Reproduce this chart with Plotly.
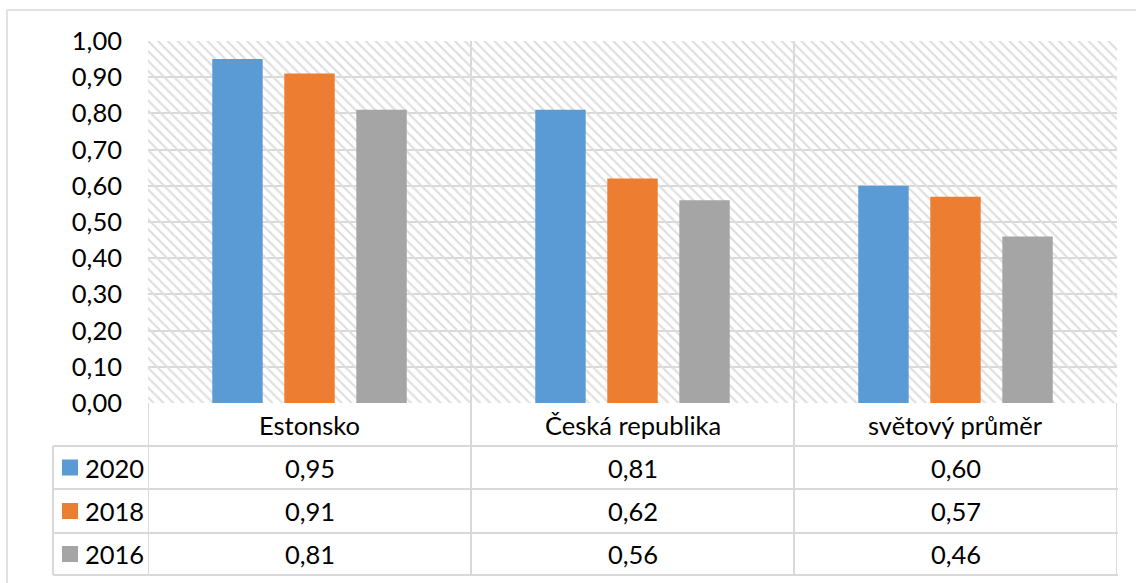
import plotly.graph_objects as go

categories = ["Estonsko", "Česká republika", "světový průměr"]
years = ["2020", "2018", "2016"]
v2020 = [0.95, 0.81, 0.60]
v2018 = [0.91, 0.62, 0.57]
v2016 = [0.81, 0.56, 0.46]
series = [v2020, v2018, v2016]
colors = ["#5b9bd5", "#ed7d31", "#a5a5a5"]
yticks = [i / 10 for i in range(11)]

W, H = 1136, 583
L, R, T, B = 148, 1117, 41, 403
pw, ph = R - L, B - T
FONT = "Lato"
FS = 25.5
GRID = "#d9d9d9"


def py(pix):
    return (B - pix) / ph


def px(pix):
    return (pix - L) / pw


fig = go.Figure()

# hatched plot background (one full-width bar per category)
fig.add_trace(go.Bar(
    x=categories, y=[1] * len(categories), width=[1] * len(categories),
    marker=dict(color="rgba(0,0,0,0)", line=dict(width=0),
                pattern=dict(shape="\\", fgcolor="#dedede", size=7, solidity=0.3,
                             fillmode="replace")),
    xaxis="x", yaxis="y", showlegend=False, hoverinfo="skip"))

for yr, vals, c in zip(years, series, colors):
    fig.add_trace(go.Bar(x=categories, y=vals, name=yr, marker=dict(color=c, line=dict(width=0)),
                         xaxis="x2", yaxis="y2", showlegend=False))

shapes = []
line = dict(color=GRID, width=2)
# table horizontal lines
for yy in [446, 489, 533, 575]:
    shapes.append(dict(type="line", xref="paper", yref="paper", x0=px(53), x1=px(R) + 0.001,
                       y0=py(yy), y1=py(yy), line=line, layer="above"))
# table vertical lines at category boundaries
for xb in [-0.5, 0.5, 1.5, 2.5]:
    shapes.append(dict(type="line", xref="x", yref="paper", x0=xb, x1=xb,
                       y0=py(575), y1=0, line=line, layer="above"))
shapes.append(dict(type="line", xref="paper", yref="paper", x0=px(53), x1=px(53),
                   y0=py(575), y1=py(446), line=line, layer="above"))
# outer chart border (left & top)
shapes.append(dict(type="line", xref="paper", yref="paper", x0=px(7), x1=px(7),
                   y0=py(600), y1=py(10), line=dict(color=GRID, width=1.5)))
shapes.append(dict(type="line", xref="paper", yref="paper", x0=px(7), x1=px(1150),
                   y0=py(10), y1=py(10), line=dict(color=GRID, width=1.5)))

annotations = []
font = dict(family=FONT, size=FS, color="#000000")
for cat in categories:
    annotations.append(dict(x=cat, xref="x", y=py(424.5), yref="paper", text=cat,
                            showarrow=False, font=font, xanchor="center", yanchor="middle"))

row_centers = [467.5, 511, 554]
for yr, vals, c, rc in zip(years, series, colors, row_centers):
    shapes.append(dict(type="rect", xref="paper", yref="paper", x0=px(62), x1=px(78),
                       y0=py(rc + 8), y1=py(rc - 8), fillcolor=c, line=dict(width=0), layer="above"))
    annotations.append(dict(x=px(83), xref="paper", y=py(rc), yref="paper", text=yr,
                            showarrow=False, font=font, xanchor="left", yanchor="middle"))
    for cat, v in zip(categories, vals):
        annotations.append(dict(x=cat, xref="x", y=py(rc), yref="paper",
                                text=f"{v:.2f}".replace(".", ","),
                                showarrow=False, font=font, xanchor="center", yanchor="middle"))

fig.update_layout(
    width=W, height=H,
    margin=dict(l=L, r=W - R, t=T, b=H - B, pad=0),
    paper_bgcolor="white", plot_bgcolor="white",
    separators=", ",
    barmode="group", bargap=0.331, bargroupgap=0.3,
    font=font,
    xaxis=dict(type="category", categoryorder="array", categoryarray=categories,
               range=[-0.5, 2.5], tickson="boundaries", showgrid=True, gridcolor=GRID,
               gridwidth=2, showticklabels=False, ticks="", showline=False, zeroline=False),
    yaxis=dict(range=[0, 1], tickvals=yticks, tickformat=".2f", showgrid=True,
               gridcolor=GRID, gridwidth=2, ticks="", ticklabelstandoff=25,
               showline=False, zeroline=False, tickfont=font),
    xaxis2=dict(type="category", categoryorder="array", categoryarray=categories,
                range=[-0.5, 2.5], overlaying="x", visible=False, matches=None),
    yaxis2=dict(range=[0, 1], overlaying="y", visible=False),
    shapes=shapes, annotations=annotations,
)

fig.write_html("out.html")
